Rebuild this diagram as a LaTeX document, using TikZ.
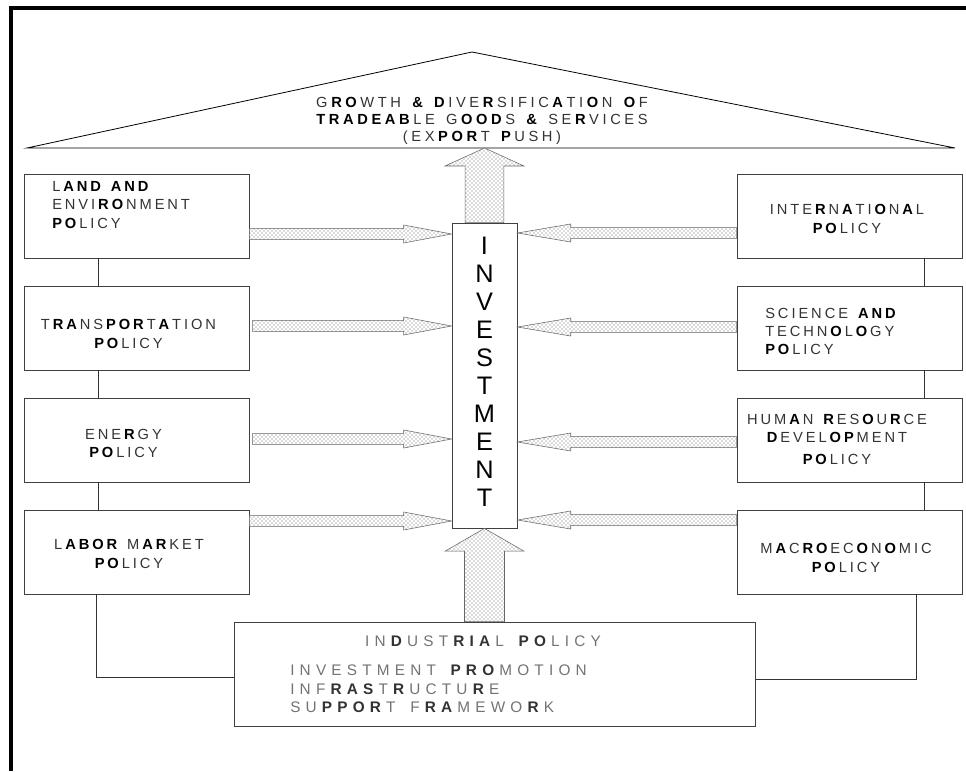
\documentclass[tikz,border=0pt]{standalone}
\usepackage{fontspec}
\setmainfont{Liberation Sans}
\usetikzlibrary{calc,patterns}
% tracked text: lowercase = regular capital, uppercase = bold capital, '.' = space, '+' = bold &
\newdimen\trkspace
\def\trkbc{black}
\def\trkend{}
\newcommand\trk[1]{\trkloop#1\trkend}
\def\trkloop#1{%
  \ifx\trkend#1\kern-\trkspace\let\trknext\relax
  \else\trkchar{#1}\let\trknext\trkloop\fi
  \trknext}
\def\trkchar#1{%
  \ifx#1.\hskip0.278em\relax\kern\trkspace
  \else\ifx#1+{\bfseries\color{\trkbc}\&}\kern\trkspace
  \else
    \ifnum`#1>96 \uppercase{#1}\else\ifnum`#1>64 {\bfseries\color{\trkbc}#1}\else #1\fi\fi
    \kern\trkspace
  \fi\fi}
% #1 start, #2 tip, #3 shaft half width, #4 head half width, #5 head length
\newcommand\fatarr[5]{%
  \coordinate (fah) at ($(#2)!#5!(#1)$);
  \path[fatarrow] ($(#1)!#3!90:(#2)$) -- ($(fah)!#3!90:(#2)$) -- ($(fah)!#4!90:(#2)$) -- (#2)
     -- ($(fah)!#4!-90:(#2)$) -- ($(fah)!#3!-90:(#2)$) -- ($(#1)!#3!-90:(#2)$) -- cycle;}
\tikzset{
  box/.style={draw=black!75, line width=0.6pt, minimum width=168.75pt, minimum height=63pt, inner sep=0pt},
  txt/.style={inner sep=0pt, text=black!80, font={\fontsize{11pt}{13.6pt}\selectfont\trkspace=2.2pt}},
  rooftxt/.style={inner sep=0pt, text=black!80, font={\fontsize{11pt}{12.6pt}\selectfont\trkspace=2.7pt}},
  indtxt/.style={inner sep=0pt, text=black!55, font={\fontsize{11.5pt}{13.9pt}\selectfont\trkspace=3.9pt\def\trkbc{black!80}}},
  conn/.style={draw=black!80, line width=0.6pt},
  roofline/.style={draw=black, line width=0.6pt},
  fatarrow/.style={draw=black!60, line width=0.4pt, preaction={fill=white}, pattern=crosshatch dots, pattern color=black!60},
}
\begin{document}
\begin{tikzpicture}[x=0.75pt, y=-0.75pt]
\useasboundingbox (0,0) rectangle (966,771);
% frame
\draw[line width=2.6pt, line join=miter] (11,771) -- (11,8) -- (966,8);
% roof
\coordinate (rl) at (27,148);
\coordinate (apex) at (472,52);
\coordinate (rr) at (955,148);
\draw[roofline] (rl) -- (apex) -- (rr) -- cycle;
\node[rooftxt, align=center] (roofT) at (482,121) {\trk{gROwth.+.DiveRsificAtiOn.Of}\\ \trk{TRADEABle.gOODs.+.seRvices}\\ \trk{(exPORt.Push)}};
% boxes
\node[box] (L1) at (136.5,216) {};
\node[box] (L2) at (136.5,328) {};
\node[box] (L3) at (136.5,440) {};
\node[box] (L4) at (136.5,552) {};
\node[box] (R1) at (849.5,216) {};
\node[box] (R2) at (849.5,328) {};
\node[box] (R3) at (849.5,440) {};
\node[box] (R4) at (849.5,552) {};
\node[box, minimum width=48.75pt, minimum height=228.75pt] (inv) at (484.5,375.5) {};
\node[box, minimum width=390.75pt, minimum height=78pt] (ind) at (494.5,674) {};
% texts
\node[txt, align=left, anchor=west] (tL1) at (52,205) {\trk{lAND.AND}\\ \trk{enviROnment}\\ \trk{POlicy}};
\node[txt, align=center] (tL2) at (128.5,334) {\trk{tRAnsPORtAtion}\\ \trk{POlicy}};
\node[txt, align=center] (tL3) at (123.5,443.5) {\trk{eneRgy}\\ \trk{POlicy}};
\node[txt, align=center] (tL4) at (129,554) {\trk{lABOR.mARket}\\ \trk{POlicy}};
\node[txt, align=center] (tR1) at (847,219) {\trk{inteRnAtiOnAl}\\ \trk{POlicy}};
\node[txt, align=left, anchor=west] (tR2) at (765,331.5) {\trk{science.AND}\\ \trk{technOlOgy}\\ \trk{POlicy}};
\node[txt, align=center] (tR3) at (837,439.5) {\trk{humAn.ResOuRce}\\ \trk{DevelOPment}\\[3pt] \trk{POlicy}};
\node[txt, align=center] (tR4) at (846,558) {\trk{mAcROecOnOmic}\\ \trk{POlicy}};
\node[inner sep=0pt, align=center, font={\fontsize{19pt}{21pt}\selectfont}] (tInv) at (484.5,372) {I\\N\\V\\E\\S\\T\\M\\E\\N\\T};
\node[indtxt] (tInd1) at (483,641) {\trk{inDustRIAl.POlicy}};
\node[indtxt, align=left, anchor=west] (tInd2) at (290,689) {\trk{investment.PROmotion}\\ \trk{infRAStRuctuRe}\\ \trk{suPPORt.fRAmewoRk}};
% connectors
\draw[conn] ($(L1.south west)+(75,0)$) -- ($(L2.north west)+(75,0)$);
\draw[conn] ($(L2.south west)+(75,0)$) -- ($(L3.north west)+(75,0)$);
\draw[conn] ($(L3.south west)+(75,0)$) -- ($(L4.north west)+(75,0)$);
\draw[conn] ($(R1.south west)+(188,0)$) -- ($(R2.north west)+(188,0)$);
\draw[conn] ($(R2.south west)+(188,0)$) -- ($(R3.north west)+(188,0)$);
\draw[conn] ($(R3.south west)+(188,0)$) -- ($(R4.north west)+(188,0)$);
\draw[conn] ($(L4.south west)+(73,0)$) |- ($(ind.west)+(0,3)$);
\draw[conn] ($(R4.south west)+(180,0)$) |- ($(ind.east)+(0,5)$);
% horizontal arrows
\coordinate (sa1) at ($(L1.east)+(0,18)$);  \coordinate (ta1) at (inv.west |- sa1);
\coordinate (sa2) at ($(L2.east)+(3,-2)$);  \coordinate (ta2) at (inv.west |- sa2);
\coordinate (sa3) at ($(L3.east)+(3,-1)$);  \coordinate (ta3) at (inv.west |- sa3);
\coordinate (sa4) at ($(L4.east)+(0,-31)$); \coordinate (ta4) at (inv.west |- sa4);
\coordinate (sb1) at ($(R1.west)+(0,17)$);  \coordinate (tb1) at (inv.east |- sb1);
\coordinate (sb2) at ($(R2.west)+(0,-1)$);  \coordinate (tb2) at (inv.east |- sb2);
\coordinate (sb3) at ($(R3.west)+(0,2)$);   \coordinate (tb3) at (inv.east |- sb3);
\coordinate (sb4) at ($(R4.west)+(0,-32)$); \coordinate (tb4) at (inv.east |- sb4);
\fatarr{sa1}{ta1}{4.1pt}{6.75pt}{36pt}
\fatarr{sa2}{ta2}{4.1pt}{6.75pt}{36pt}
\fatarr{sa3}{ta3}{4.1pt}{6.75pt}{36pt}
\fatarr{sa4}{ta4}{4.1pt}{6.75pt}{36pt}
\fatarr{sb1}{tb1}{4.1pt}{6.75pt}{40pt}
\fatarr{sb2}{tb2}{4.1pt}{6.75pt}{40pt}
\fatarr{sb3}{tb3}{4.1pt}{6.75pt}{40pt}
\fatarr{sb4}{tb4}{4.1pt}{6.75pt}{40pt}
% vertical arrows
\coordinate (tTop) at (inv.north |- rl);
\fatarr{inv.north}{tTop}{14.6pt}{29.6pt}{13.5pt}
\coordinate (sBot) at (inv.south |- ind.north);
\fatarr{sBot}{inv.south}{15pt}{29.5pt}{17pt}
\end{tikzpicture}
\end{document}
